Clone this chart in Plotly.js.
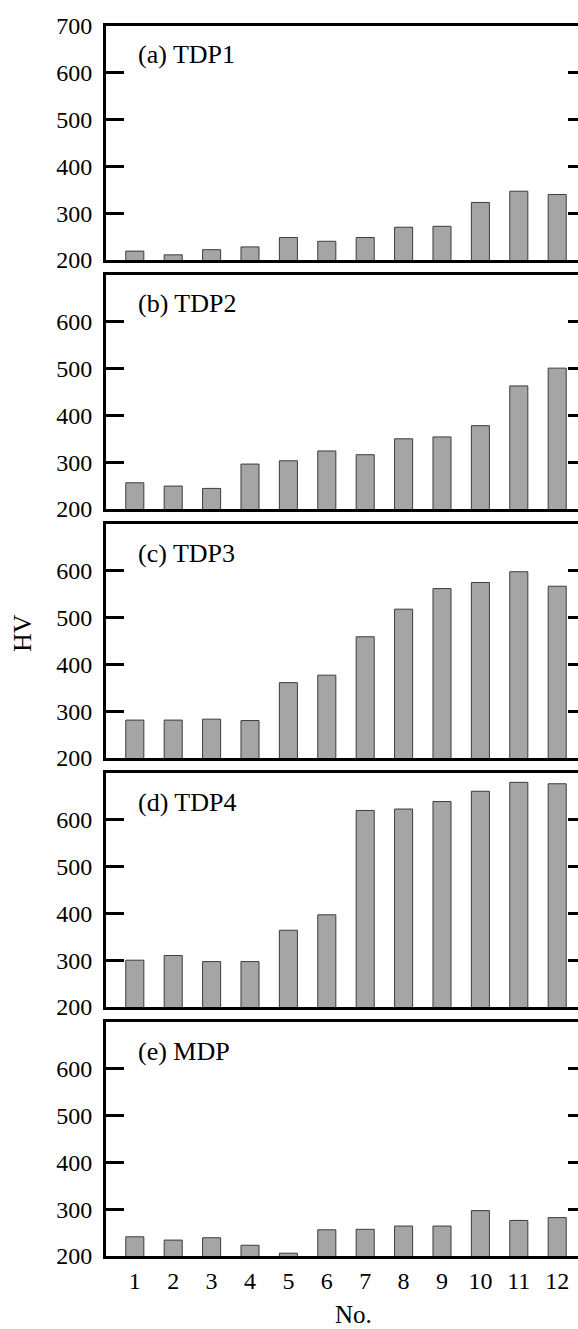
<!DOCTYPE html>
<html>
<head>
<meta charset="utf-8">
<script src="https://cdn.plot.ly/plotly-3.0.1.min.js"></script>
<style>
html, body { margin: 0; padding: 0; overflow: hidden; background: #fff; }
#chart { width: 586px; height: 1329px; }
</style>
</head>
<body>
<div id="chart"></div>
<script>
// ---- data ----
const sampleNo = [1, 2, 3, 4, 5, 6, 7, 8, 9, 10, 11, 12];
const sampleLabels = ["1", "2", "3", "4", "5", "6", "7", "8", "9", "10", "11", "12"];
const panelNames = ["(a) TDP1", "(b) TDP2", "(c) TDP3", "(d) TDP4", "(e) MDP"];
const hvTDP1 = [219, 211, 222, 228, 248, 240, 248, 270, 272, 323, 347, 340];
const hvTDP2 = [256, 249, 244, 296, 303, 324, 316, 350, 354, 378, 463, 501];
const hvTDP3 = [281, 281, 283, 280, 361, 377, 459, 518, 562, 575, 598, 567];
const hvTDP4 = [300, 310, 297, 297, 364, 397, 620, 623, 639, 661, 680, 677];
const hvMDP  = [241, 234, 239, 223, 206, 256, 257, 264, 264, 297, 276, 282];
const yTicksTop = [200, 300, 400, 500, 600, 700];
const yTicks = [200, 300, 400, 500, 600];
const yTitle = "HV";
const xTitle = "No.";

// ---- build ----
const series = [hvTDP1, hvTDP2, hvTDP3, hvTDP4, hvMDP];
const n = series.length;
const totalH = 1230, panelH = 234, step = 249;
const FONT = "Liberation Serif, Times New Roman, serif";

const data = [];
const layout = {
  width: 586, height: 1329,
  margin: {l: 106, r: 0, t: 26, b: 73},
  paper_bgcolor: "#fff", plot_bgcolor: "#fff",
  showlegend: false,
  font: {family: FONT, size: 24, color: "#000"},
  annotations: []
};

series.forEach((vals, i) => {
  const k = i === 0 ? "" : String(i + 1);
  const fromBottom = n - 1 - i;
  const d0 = fromBottom * step / totalH;
  const d1 = (fromBottom * step + panelH) / totalH;
  data.push({
    type: "bar",
    x: sampleNo, y: vals,
    xaxis: "x" + k, yaxis: "y" + k,
    width: 0.47,
    marker: {color: "#a5a5a5", line: {color: "#3c3c3c", width: 1}},
    hoverinfo: "x+y"
  });
  const last = i === n - 1;
  layout["xaxis" + k] = {
    domain: [0, 1], anchor: "y" + k,
    range: [0.25, 12.75],
    showline: true, linewidth: 3, linecolor: "#000", mirror: true,
    ticks: "", showgrid: false, zeroline: false,
    tickvals: sampleNo, ticktext: sampleLabels,
    showticklabels: last,
    ticklabelstandoff: 1,
    tickfont: {family: FONT, size: 24, color: "#000"},
    fixedrange: true
  };
  layout["yaxis" + k] = {
    domain: [d0, d1], anchor: "x" + k,
    range: [200, 700],
    showline: true, linewidth: 3, linecolor: "#000", mirror: "ticks",
    ticks: "inside", ticklen: 18, tickwidth: 3, tickcolor: "#000",
    tickvals: i === 0 ? yTicksTop : yTicks,
    showgrid: false, zeroline: false,
    ticklabelstandoff: 6,
    tickfont: {family: FONT, size: 24, color: "#000"},
    fixedrange: true
  };
  layout.annotations.push({
    xref: "x" + k + " domain", yref: "y" + k + " domain",
    x: 30 / 480, y: 1 - 29 / panelH,
    xanchor: "left", yanchor: "middle",
    text: panelNames[i], showarrow: false,
    font: {family: FONT, size: 26, color: "#000"}
  });
});

layout.annotations.push({
  xref: "paper", yref: "paper",
  x: (22 - 106) / 480, y: (1256 - 633) / totalH,
  xanchor: "center", yanchor: "middle",
  text: yTitle, textangle: -90, showarrow: false,
  font: {family: FONT, size: 26, color: "#000"}
});
layout.annotations.push({
  xref: "paper", yref: "paper",
  x: (353 - 106) / 480, y: (1256 - 1315) / totalH,
  xanchor: "center", yanchor: "middle",
  text: xTitle, showarrow: false,
  font: {family: FONT, size: 25, color: "#000"}
});

Plotly.newPlot("chart", data, layout, {displayModeBar: false, staticPlot: true});
</script>
</body>
</html>
